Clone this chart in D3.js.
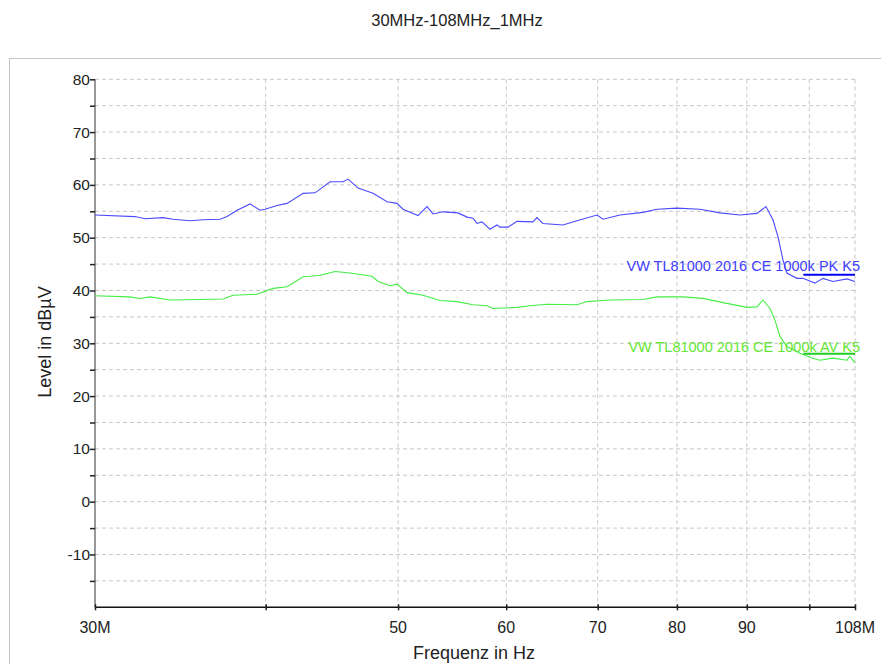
<!DOCTYPE html>
<html><head><meta charset="utf-8">
<script src="https://cdn.jsdelivr.net/npm/d3@7"></script>
<style>
body{margin:0;background:#fff;}
svg{display:block;font-family:"Liberation Sans",Arial,sans-serif;}
</style></head>
<body><svg id="c" width="881" height="664"></svg>
<script>
const titleText = "30MHz-108MHz_1MHz";
const xLabelTicks = [30, 50, 60, 70, 80, 90, 108];
const xTickLabels = ["30M", "50", "60", "70", "80", "90", "108M"];
const xGridTicks = [40, 50, 60, 70, 80, 90, 100, 108];
const xAxisTicks = [30, 40, 50, 60, 70, 80, 90, 100, 108];
const yLabelTicks = [80, 70, 60, 50, 40, 30, 20, 10, 0, -10];
const yMinorTicks = [-15, -5, 5, 15, 25, 35, 45, 55, 65, 75];

const pkFreq = [30.0,32.09,32.64,33.64,34.22,35.21,35.99,37.04,37.48,38.12,38.96,39.62,39.96,40.77,41.47,42.60,43.47,44.58,45.57,45.96,46.74,47.93,49.08,49.91,50.42,51.71,52.50,53.03,53.93,55.31,56.16,56.73,57.11,57.60,58.38,59.07,59.37,60.18,61.10,62.77,63.19,63.83,66.02,67.60,69.92,70.63,72.68,75.55,77.36,80.01,83.17,86.02,88.97,91.55,92.95,94.05,94.85,95.65,96.29,97.93,98.93,100.95,102.32,104.06,106.54,108];
const pkLevel = [54.3,54.0,53.6,53.8,53.5,53.2,53.4,53.5,54.0,55.2,56.4,55.2,55.4,56.1,56.5,58.4,58.5,60.6,60.6,61.1,59.4,58.4,56.8,56.5,55.4,54.2,55.9,54.5,54.9,54.7,53.9,53.7,52.7,53.0,51.6,52.4,52.0,52.0,53.1,53.0,53.8,52.7,52.4,53.2,54.3,53.5,54.3,54.8,55.4,55.6,55.4,54.7,54.3,54.6,55.9,53.4,50.2,45.8,43.3,42.3,42.3,41.4,42.3,41.7,42.2,41.7];
const avFreq = [30.0,31.82,32.36,32.91,34.04,35.81,37.23,37.86,39.42,40.50,41.47,42.60,43.10,43.84,44.96,46.11,47.85,48.34,49.33,49.91,50.76,52.15,53.66,55.22,56.73,58.09,58.68,61.10,62.45,64.27,67.60,68.75,71.47,75.55,77.36,80.82,83.59,86.46,90.02,91.55,92.48,93.58,94.37,95.17,96.29,98.43,100.44,101.80,104.06,106.54,107.08,108];
const avLevel = [39.0,38.8,38.5,38.8,38.2,38.3,38.4,39.1,39.3,40.4,40.7,42.6,42.7,42.9,43.6,43.3,42.7,41.7,40.9,41.2,39.6,39.1,38.1,37.9,37.3,37.1,36.6,36.8,37.1,37.4,37.3,37.9,38.2,38.3,38.8,38.8,38.5,37.7,36.8,36.9,38.2,36.6,34.4,31.3,29.4,28.1,27.2,26.8,27.2,26.8,27.5,26.3];
const pkLimitFreq = [99, 108];
const pkLimitLevel = [43, 43];
const avLimitFreq = [99, 108];
const avLimitLevel = [28, 28];
const pkName = "VW TL81000 2016 CE 1000k PK K5";
const avName = "VW TL81000 2016 CE 1000k AV K5";

const svg = d3.select("#c");
const L = 95, R = 855, T = 79.3, B = 607.3;
const x = d3.scaleLog().domain([30, 108]).range([L, R]);
const y = d3.scaleLinear().domain([-20, 80]).range([B, T]);

// frame
svg.append("rect").attr("x", 9.5).attr("y", 58.5).attr("width", 1000).attr("height", 1000)
  .attr("fill", "none").attr("stroke", "#c4c4c4").attr("stroke-width", 1);

// title
svg.append("text").attr("x", 457).attr("y", 26).attr("text-anchor", "middle")
  .attr("font-size", 16.5).attr("fill", "#222").text(titleText);

// grid
const g = svg.append("g");
g.selectAll("line.hg").data(yLabelTicks.concat(yMinorTicks)).join("line")
  .attr("x1", L).attr("x2", R).attr("y1", d => y(d)).attr("y2", d => y(d))
  .attr("stroke", "#c8c8c8").attr("stroke-dasharray", "4,3");
g.selectAll("line.vg").data(xGridTicks).join("line")
  .attr("x1", d => x(d)).attr("x2", d => x(d)).attr("y1", T).attr("y2", B)
  .attr("stroke", "#c8c8c8").attr("stroke-dasharray", "4,3");

// y axis
const yAxis = d3.axisLeft(y).tickValues(yLabelTicks.concat(yMinorTicks)).tickSize(5)
  .tickFormat(d => yLabelTicks.includes(d) ? d : "");
const ya = svg.append("g").attr("transform", `translate(${L},0)`).call(yAxis);
ya.select(".domain").attr("stroke", "#333").attr("d", `M0,${T}V${B}`);
ya.selectAll(".tick line").attr("stroke", "#222").attr("stroke-width", 1.5);
ya.selectAll(".tick text").attr("font-size", 15.5).attr("fill", "#222")
  .attr("font-family", "Liberation Sans, Arial, sans-serif").attr("x", -5);

// x axis
const xAxis = d3.axisBottom(x).tickValues(xAxisTicks).tickSize(3).tickFormat("");
const xa = svg.append("g").attr("transform", `translate(0,${B})`).call(xAxis);
xa.select(".domain").attr("stroke", "#111").attr("stroke-width", 1.5).attr("d", `M${L},0H${R}`);
xa.selectAll(".tick line").attr("stroke", "#222").attr("stroke-width", 1.5).attr("y1", -3).attr("y2", 3);
svg.selectAll("text.xl").data(xLabelTicks).join("text")
  .attr("x", d => x(d)).attr("y", 633).attr("text-anchor", "middle")
  .attr("font-size", 16).attr("fill", "#222")
  .text((d, i) => xTickLabels[i]);

// axis titles
svg.append("text").attr("x", 474).attr("y", 659).attr("text-anchor", "middle")
  .attr("font-size", 18).attr("fill", "#222").text("Frequenz in Hz");
svg.append("text").attr("transform", "translate(51,342) rotate(-90)").attr("text-anchor", "middle")
  .attr("font-size", 18).attr("fill", "#222").text("Level in dBµV");

// traces
const line = d3.line().x(d => x(d[0])).y(d => y(d[1]));
svg.append("path").datum(pkFreq.map((f, i) => [f, pkLevel[i]]))
  .attr("d", line).attr("fill", "none").attr("stroke", "#4a4aff").attr("stroke-width", 1.1);
svg.append("path").datum(avFreq.map((f, i) => [f, avLevel[i]]))
  .attr("d", line).attr("fill", "none").attr("stroke", "#44ee44").attr("stroke-width", 1.1);

// limits
svg.append("path").datum(pkLimitFreq.map((f, i) => [f, pkLimitLevel[i]]))
  .attr("d", line).attr("fill", "none").attr("stroke", "#0000ee").attr("stroke-width", 2);
svg.append("path").datum(avLimitFreq.map((f, i) => [f, avLimitLevel[i]]))
  .attr("d", line).attr("fill", "none").attr("stroke", "#22cc22").attr("stroke-width", 2);

// labels
svg.append("text").attr("x", 860).attr("y", 271).attr("text-anchor", "end")
  .attr("font-size", 14.5).attr("fill", "#4040ff").text(pkName);
svg.append("text").attr("x", 860).attr("y", 352).attr("text-anchor", "end")
  .attr("font-size", 14.5).attr("fill", "#66e633").text(avName);
</script></body></html>
